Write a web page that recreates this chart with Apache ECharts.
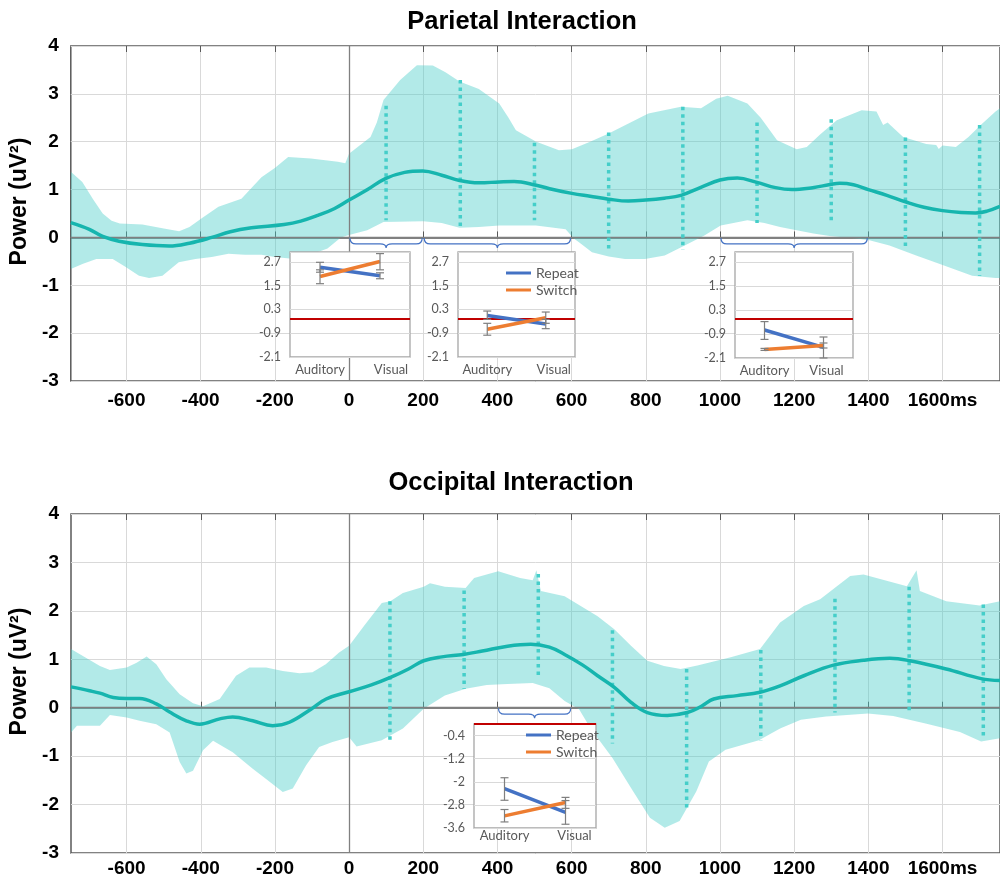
<!DOCTYPE html>
<html><head><meta charset="utf-8">
<script src="https://cdn.jsdelivr.net/npm/echarts@6/dist/echarts.min.js"></script>
<style>html,body{margin:0;padding:0;background:#fff}#c{width:1000px;height:882px}</style>
</head><body><div id="c"></div>
<script>
// ---------- data ----------
const xTicks = [-600,-400,-200,0,200,400,600,800,1000,1200,1400,1600];
const insetCats = ['Auditory','Visual'];

const parMean = [[-750,0.31],[-700,0.17],[-664,0.02],[-620,-0.08],[-557,-0.15],[-485,-0.18],[-430,-0.12],[-370,0.0],[-320,0.12],[-263,0.2],[-175,0.27],[-130,0.34],[-84,0.46],[-40,0.6],[0,0.78],[50,1.0],[98,1.23],[150,1.36],[199,1.39],[250,1.3],[298,1.19],[350,1.14],[405,1.16],[445,1.17],[505,1.09],[550,1.0],[601,0.92],[650,0.86],[700,0.8],[753,0.76],[800,0.78],[850,0.82],[895,0.88],[950,1.05],[1000,1.2],[1047,1.24],[1100,1.15],[1150,1.04],[1194,1.0],[1250,1.04],[1300,1.11],[1323,1.13],[1360,1.1],[1400,1.0],[1450,0.88],[1502,0.74],[1550,0.63],[1600,0.56],[1650,0.52],[1689,0.51],[1720,0.55],[1755,0.65]];
const parUpper = [[-750,1.37],[-719,1.16],[-690,0.8],[-664,0.5],[-640,0.35],[-618,0.29],[-557,0.27],[-503,0.19],[-458,0.13],[-430,0.22],[-397,0.4],[-352,0.64],[-290,0.81],[-236,1.26],[-200,1.45],[-164,1.68],[-103,1.65],[-30,1.58],[-10,1.55],[0,1.75],[58,2.1],[75,2.4],[93,2.87],[138,3.29],[183,3.6],[226,3.59],[260,3.45],[298,3.26],[350,3.1],[405,2.8],[430,2.5],[450,2.24],[505,2.0],[566,1.82],[601,1.84],[650,2.0],[700,2.17],[807,2.59],[895,2.73],[949,2.7],[990,2.9],[1021,2.96],[1074,2.8],[1110,2.5],[1154,2.03],[1207,1.84],[1234,1.89],[1270,2.15],[1315,2.45],[1382,2.66],[1422,2.63],[1440,2.35],[1452,2.4],[1462,2.33],[1494,2.1],[1556,1.95],[1583,1.93],[1590,1.85],[1600,1.92],[1636,1.89],[1670,2.1],[1703,2.35],[1743,2.63],[1755,2.7]];
const parLower = [[-750,-0.66],[-717,-0.55],[-681,-0.45],[-637,-0.45],[-602,-0.62],[-566,-0.8],[-539,-0.85],[-503,-0.8],[-459,-0.52],[-414,-0.45],[-370,-0.41],[-325,-0.34],[-281,-0.36],[-236,-0.36],[-200,-0.41],[-147,-0.45],[-100,-0.35],[-58,-0.23],[-22,0.0],[0,0.05],[49,0.15],[93,0.32],[200,0.34],[250,0.3],[298,0.2],[350,0.22],[405,0.25],[504,0.25],[584,0.17],[606,-0.02],[620,-0.1],[655,-0.31],[700,-0.4],[744,-0.45],[798,-0.45],[851,-0.38],[905,-0.17],[958,0.04],[1002,0.25],[1074,0.36],[1120,0.3],[1162,0.22],[1252,0.08],[1296,0.03],[1340,0.0],[1368,-0.02],[1403,-0.06],[1457,-0.17],[1529,-0.38],[1591,-0.55],[1680,-0.8],[1743,-0.85],[1755,-0.85]];
const parDotX = [100,300,500,700,900,1100,1300,1500,1700];
const parDotLow = [0.36,0.18,0.36,-0.25,-0.25,0.3,0.34,-0.24,-0.8];
const parDotHigh = [2.75,3.29,1.98,2.19,2.73,2.4,2.47,2.09,2.35];
const parBraces = [[0,200],[200,600],[1000,1400]];

const occMean = [[-750,0.43],[-700,0.35],[-672,0.3],[-636,0.21],[-600,0.19],[-565,0.19],[-520,0.08],[-484,-0.09],[-439,-0.27],[-403,-0.34],[-349,-0.23],[-314,-0.19],[-260,-0.27],[-206,-0.37],[-161,-0.3],[-103,-0.03],[-62,0.18],[0,0.33],[60,0.47],[113,0.63],[160,0.8],[201,0.97],[250,1.05],[308,1.1],[359,1.17],[427,1.27],[490,1.31],[540,1.25],[581,1.1],[630,0.88],[670,0.66],[715,0.42],[760,0.11],[804,-0.1],[858,-0.16],[912,-0.1],[950,0.03],[983,0.18],[1046,0.25],[1108,0.32],[1162,0.45],[1226,0.66],[1306,0.88],[1387,0.98],[1458,1.02],[1512,0.97],[1610,0.8],[1704,0.6],[1755,0.56]];
const occUpper = [[-750,1.21],[-734,1.14],[-672,0.86],[-645,0.78],[-600,0.83],[-573,0.93],[-546,1.06],[-520,0.9],[-493,0.59],[-457,0.28],[-421,0.09],[-394,0.03],[-349,0.18],[-305,0.66],[-269,0.83],[-224,0.83],[-179,0.76],[-134,0.71],[-99,0.73],[-63,0.9],[-27,1.14],[0,1.28],[43,1.72],[88,2.16],[111,2.2],[145,2.37],[201,2.5],[218,2.57],[258,2.5],[314,2.47],[337,2.68],[402,2.82],[461,2.68],[495,2.63],[505,2.84],[517,2.41],[581,2.3],[670,1.89],[715,1.62],[760,1.28],[804,0.97],[849,0.86],[894,0.8],[939,0.87],[1029,1.04],[1108,1.21],[1162,1.76],[1226,2.1],[1270,2.24],[1351,2.72],[1387,2.75],[1504,2.51],[1530,2.84],[1539,2.41],[1610,2.2],[1700,2.11],[1755,2.2]];
const occLower = [[-750,-0.51],[-734,-0.37],[-672,-0.37],[-645,-0.15],[-600,-0.2],[-565,-0.27],[-520,-0.34],[-484,-0.51],[-457,-1.12],[-439,-1.36],[-421,-1.3],[-394,-0.88],[-367,-0.68],[-314,-0.92],[-260,-1.26],[-224,-1.47],[-179,-1.74],[-152,-1.67],[-116,-1.19],[-81,-0.81],[-45,-0.71],[0,-0.61],[20,-0.8],[88,-0.67],[145,-0.43],[201,-0.02],[258,0.25],[314,0.39],[371,0.47],[427,0.49],[495,0.51],[540,0.4],[581,0.14],[620,-0.03],[652,-0.44],[710,-1.04],[766,-1.73],[811,-2.27],[851,-2.48],[891,-2.34],[936,-1.73],[970,-1.11],[1015,-0.87],[1105,-0.67],[1162,-0.43],[1218,-0.25],[1286,-0.18],[1399,-0.12],[1467,-0.17],[1557,-0.33],[1647,-0.5],[1704,-0.7],[1755,-0.63]];
const occDotX = [110,310,510,710,910,1110,1310,1510,1710];
const occDotLow = [-0.67,0.39,0.66,-0.74,-2.07,-0.67,-0.1,-0.08,-0.63];
const occDotHigh = [2.2,2.42,2.76,1.6,0.8,1.19,2.25,2.5,2.13];
const occBraces = [[400,600]];

// insets: values per category (Auditory, Visual) and error ranges [low, high]
const in1Repeat = [2.43, 2.0];
const in1Switch = [1.96, 2.72];
const in1RepeatErr = [[2.18,2.68],[1.85,2.15]];
const in1SwitchErr = [[1.6,2.3],[2.3,3.12]];
const in2Repeat = [0.0, -0.43];
const in2Switch = [-0.7, -0.12];
const in2RepeatErr = [[-0.2,0.22],[-0.67,-0.2]];
const in2SwitchErr = [[-1.0,-0.4],[-0.4,0.17]];
const in3Repeat = [-0.7, -1.57];
const in3Switch = [-1.67, -1.48];
const in3RepeatErr = [[-1.17,-0.28],[-2.1,-1.05]];
const in3SwitchErr = [[-1.72,-1.62],[-1.6,-1.35]];
const in4Repeat = [-2.24, -3.06];
const in4Switch = [-3.18, -2.72];
const in4RepeatErr = [[-2.64,-1.86],[-3.47,-2.65]];
const in4SwitchErr = [[-3.39,-2.96],[-2.92,-2.54]];
const insetRefTop = -0.15;   // red reference line in parietal insets
const insetRefBottom = 0;    // red reference line in occipital inset

// ---------- helpers ----------
const BAND = 'rgba(72,205,199,0.42)';
const LINE = '#16B5AE';
const DOT = '#45CEC9';
const GRIDC = '#D9D9D9';
const AXC = '#595959';
const FONT = '"Liberation Sans", Arial, sans-serif';
const IFONT = 'Lato, "Open Sans", sans-serif';

function bandRender(upper, lower) {
  return function (params, api) {
    const pts = upper.map(p => api.coord(p)).concat(lower.slice().reverse().map(p => api.coord(p)));
    const cs = params.coordSys;
    return {type: 'polygon', shape: {points: pts}, style: {fill: BAND},
      clipPath: {type: 'rect', shape: {x: cs.x, y: cs.y, width: cs.width, height: cs.height}}};
  };
}
function dotRender(params, api) {
  const x = api.value(0);
  const p1 = api.coord([x, api.value(2)]), p2 = api.coord([x, api.value(1)]);
  return {type: 'line', shape: {x1: p1[0], y1: p1[1], x2: p2[0], y2: p2[1]},
    style: {stroke: DOT, lineWidth: 3.5, lineDash: [3.5, 4]}};
}
function braceRender(params, api) {
  const a = api.coord([api.value(0), 0]), b = api.coord([api.value(1), 0]);
  const y0 = a[1] + 0.5, x1 = a[0] + 1, x2 = b[0] - 1, xm = (x1 + x2) / 2, d = 6, r = 6;
  const p = 'M' + x1 + ',' + y0 + ' Q' + x1 + ',' + (y0 + d) + ' ' + (x1 + r) + ',' + (y0 + d) +
    ' L' + (xm - r) + ',' + (y0 + d) + ' Q' + xm + ',' + (y0 + d) + ' ' + xm + ',' + (y0 + d + 4) +
    ' Q' + xm + ',' + (y0 + d) + ' ' + (xm + r) + ',' + (y0 + d) +
    ' L' + (x2 - r) + ',' + (y0 + d) + ' Q' + x2 + ',' + (y0 + d) + ' ' + x2 + ',' + y0;
  return {type: 'path', shape: {pathData: p}, style: {fill: 'none', stroke: '#4472C4', lineWidth: 1.2}};
}
function errRender(params, api) {
  const c = api.value(0);
  const p1 = api.coord([c, api.value(1)]), p2 = api.coord([c, api.value(2)]);
  const w = 4, st = {stroke: '#7F7F7F', lineWidth: 1.2};
  return {type: 'group', children: [
    {type: 'line', shape: {x1: p1[0], y1: p1[1], x2: p2[0], y2: p2[1]}, style: st},
    {type: 'line', shape: {x1: p1[0] - w, y1: p1[1], x2: p1[0] + w, y2: p1[1]}, style: st},
    {type: 'line', shape: {x1: p2[0] - w, y1: p2[1], x2: p2[0] + w, y2: p2[1]}, style: st}
  ]};
}
function errData(rep, sw) {
  return rep.map((r, i) => [i, r[0], r[1]]).concat(sw.map((r, i) => [i, r[0], r[1]]));
}

// ---------- axes ----------
function mainX(grid, labelMargin) {
  return [{
    gridIndex: grid, type: 'value', min: -750, max: 1755, position: 'bottom',
    axisLine: {show: true, lineStyle: {color: AXC, width: 1.5}},
    axisTick: {show: true, inside: true, length: 6, customValues: xTicks, lineStyle: {color: AXC}},
    axisLabel: {customValues: xTicks, margin: labelMargin, color: '#000', fontFamily: FONT, fontWeight: 'bold', fontSize: 19,
      formatter: v => v === 1600 ? '1600ms' : String(v)},
    splitLine: {show: true, lineStyle: {color: GRIDC, width: 1}}
  }, {
    gridIndex: grid, type: 'value', min: -750, max: 1755, position: 'top',
    axisLine: {show: false},
    axisTick: {show: true, inside: true, length: 6, customValues: xTicks, lineStyle: {color: AXC}},
    axisLabel: {show: false}, splitLine: {show: false}
  }];
}
function mainY(grid) {
  return {
    gridIndex: grid, type: 'value', min: -3, max: 4, interval: 1,
    axisLine: {show: false}, axisTick: {show: false},
    axisLabel: {margin: 12, color: '#000', fontFamily: FONT, fontWeight: 'bold', fontSize: 19},
    splitLine: {show: true, lineStyle: {color: GRIDC}},
    name: 'Power (uV\u00B2)', nameLocation: 'middle', nameGap: 34,
    nameTextStyle: {color: '#000', fontFamily: FONT, fontWeight: 'bold', fontSize: 23, padding: [0, 0, 0, 24]}
  };
}
function insetX(grid, margin, vPad) {
  return {gridIndex: grid, type: 'category', data: insetCats, boundaryGap: true, z: 11,
    axisLine: {show: false}, axisTick: {show: false}, splitLine: {show: false},
    axisLabel: {interval: 0, margin: margin, color: '#595959', fontFamily: IFONT, fontSize: 13,
      formatter: v => v === 'Visual' ? '{v|' + v + '}' : v,
      rich: {v: {color: '#595959', fontFamily: IFONT, fontSize: 13, padding: [0, 0, 0, vPad]}}}};
}
function insetY(grid, min, max, interval) {
  return {gridIndex: grid, type: 'value', min: min, max: max, interval: interval, z: 11,
    axisLine: {show: false}, axisTick: {show: false},
    axisLabel: {margin: 9, color: '#595959', fontFamily: IFONT, fontSize: 12.5, showMaxLabel: false,
      formatter: v => String(parseFloat(v.toFixed(1)))},
    splitLine: {show: true, lineStyle: {color: GRIDC}}};
}
const insetGrid = (l, t, w, h) => ({left: l, top: t, width: w, height: h, z: 10, show: true,
  backgroundColor: '#fff', borderColor: '#A6A6A6', borderWidth: 1.3, containLabel: false});

// ---------- series ----------
function mainSeries(xi, yi, upper, lower, mean, dx, dlo, dhi, braces) {
  return [{
    type: 'custom', xAxisIndex: xi, yAxisIndex: yi, z: 1, silent: true,
    renderItem: bandRender(upper, lower), data: [[0, 0]],
    markLine: {silent: true, symbol: 'none', label: {show: false}, z: 2,
      lineStyle: {color: '#808080', width: 1.3, type: 'solid'},
      data: [{yAxis: 0}, {xAxis: 0}]}
  }, {
    type: 'custom', xAxisIndex: xi, yAxisIndex: yi, z: 3, silent: true,
    renderItem: dotRender, encode: {x: 0, y: [1, 2]},
    data: dx.map((x, i) => [x, dlo[i], dhi[i]])
  }, {
    type: 'line', xAxisIndex: xi, yAxisIndex: yi, z: 4, silent: true, smooth: 0.4,
    showSymbol: false, data: mean, lineStyle: {color: LINE, width: 3.5}, itemStyle: {color: LINE}
  }, {
    type: 'custom', xAxisIndex: xi, yAxisIndex: yi, z: 5, silent: true,
    renderItem: braceRender, encode: {x: [0, 1]}, data: braces
  }];
}
function insetSeries(idxX, idxY, rep, sw, repErr, swErr, ref) {
  return [{
    name: 'Repeat', type: 'line', xAxisIndex: idxX, yAxisIndex: idxY, z: 13, silent: true,
    data: rep, showSymbol: false, color: '#4472C4', lineStyle: {color: '#4472C4', width: 3.5},
    markLine: {silent: true, symbol: 'none', label: {show: false}, z: 12,
      lineStyle: {color: '#C00000', width: 2, type: 'solid'}, data: [{yAxis: ref}]}
  }, {
    name: 'Switch', type: 'line', xAxisIndex: idxX, yAxisIndex: idxY, z: 13, silent: true,
    data: sw, showSymbol: false, color: '#ED7D31', lineStyle: {color: '#ED7D31', width: 3.5}
  }, {
    type: 'custom', xAxisIndex: idxX, yAxisIndex: idxY, z: 14, silent: true,
    renderItem: errRender, encode: {x: 0, y: [1, 2]}, data: errData(repErr, swErr)
  }];
}
const legendBase = {orient: 'vertical', itemWidth: 25, itemHeight: 3, itemGap: 3, icon: 'rect',
  selectedMode: false, z: 20, data: ['Repeat', 'Switch'],
  textStyle: {color: '#595959', fontFamily: IFONT, fontSize: 14, lineHeight: 14}};

const option = {
  animation: false,
  backgroundColor: '#fff',
  grid: [
    {left: 68, top: 46, right: -4, height: 335, show: true, borderColor: AXC, borderWidth: 1.5},
    {left: 71, top: 514, right: -4, height: 339, show: true, borderColor: AXC, borderWidth: 1.5},
    insetGrid(290, 252, 120, 105),
    insetGrid(458, 252, 117, 105),
    insetGrid(735, 252, 118, 106),
    insetGrid(474, 724, 122, 104)
  ],
  xAxis: [].concat(mainX(0, 10), mainX(1, 6),
    [insetX(2, 6, 22), insetX(3, 6, 16), insetX(4, 6, 6), insetX(5, 1, 18)]),
  yAxis: [mainY(0), mainY(1),
    insetY(2, -2.1, 3.2, 1.2), insetY(3, -2.1, 3.2, 1.2), insetY(4, -2.1, 3.2, 1.2),
    insetY(5, -3.6, 0, 0.8)],
  legend: [
    Object.assign({}, legendBase, {left: 501, top: 261}),
    Object.assign({}, legendBase, {left: 521, top: 723})
  ],
  graphic: [
    {type: 'text', x: 522, y: 22, z: 30, style: {text: 'Parietal Interaction', font: 'bold 25.5px ' + FONT, fill: '#000', align: 'center', verticalAlign: 'middle'}},
    {type: 'text', x: 511, y: 483, z: 30, style: {text: 'Occipital Interaction', font: 'bold 25.5px ' + FONT, fill: '#000', align: 'center', verticalAlign: 'middle'}}
  ],
  series: [].concat(
    mainSeries(0, 0, parUpper, parLower, parMean, parDotX, parDotLow, parDotHigh, parBraces),
    mainSeries(2, 1, occUpper, occLower, occMean, occDotX, occDotLow, occDotHigh, occBraces),
    insetSeries(4, 2, in1Repeat, in1Switch, in1RepeatErr, in1SwitchErr, insetRefTop),
    insetSeries(5, 3, in2Repeat, in2Switch, in2RepeatErr, in2SwitchErr, insetRefTop),
    insetSeries(6, 4, in3Repeat, in3Switch, in3RepeatErr, in3SwitchErr, insetRefTop),
    insetSeries(7, 5, in4Repeat, in4Switch, in4RepeatErr, in4SwitchErr, insetRefBottom)
  )
};
const chart = echarts.init(document.getElementById('c'), null, {renderer: 'canvas'});
chart.setOption(option);
</script>
</body></html>
